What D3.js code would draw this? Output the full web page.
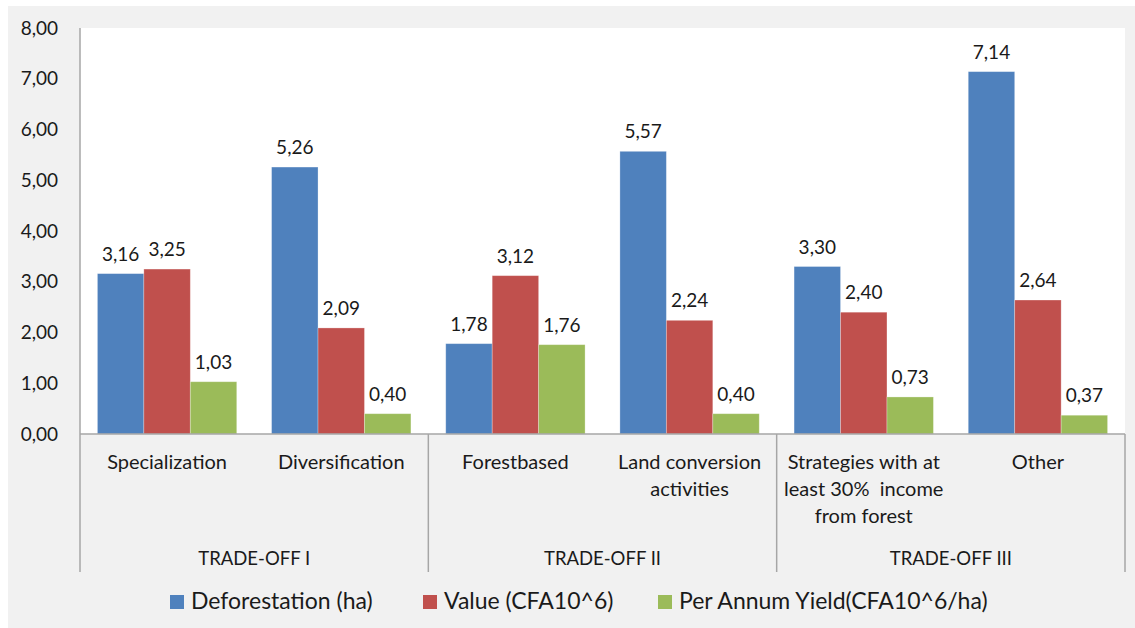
<!DOCTYPE html>
<html>
<head>
<meta charset="utf-8">
<script src="https://cdn.jsdelivr.net/npm/d3@7/dist/d3.min.js"></script>
<style>
  body { margin: 0; background: #ffffff; }
  svg text { font-family: Lato, "Open Sans", sans-serif; fill: #1a1a1a; }
</style>
</head>
<body>
<div id="chart"></div>
<script>
// chart data
var categories = [
  ["Specialization"],
  ["Diversification"],
  ["Forestbased"],
  ["Land conversion", "activities"],
  ["Strategies with at", "least 30%  income", "from forest"],
  ["Other"]
];
var groups = ["TRADE-OFF I", "TRADE-OFF II", "TRADE-OFF III"];
var seriesNames = ["Deforestation (ha)", "Value (CFA10^6)", "Per Annum Yield(CFA10^6/ha)"];
var deforestation = [3.16, 5.26, 1.78, 5.57, 3.30, 7.14];
var value = [3.25, 2.09, 3.12, 2.24, 2.40, 2.64];
var yieldPerAnnum = [1.03, 0.40, 1.76, 0.40, 0.73, 0.37];
var yTicks = [0, 1, 2, 3, 4, 5, 6, 7, 8];

var colors = ["#4f81bd", "#c0504d", "#9bbb59"];
var series = [deforestation, value, yieldPerAnnum];

var width = 1135, height = 628;
var margin = {left: 80, right: 10, top: 28, bottom: 194};
var plotW = width - margin.left - margin.right;
var plotH = height - margin.top - margin.bottom;

var locale = d3.formatLocale({decimal: ",", thousands: ".", grouping: [3], currency: ["", ""]});
var fmt = locale.format(".2f");

var svg = d3.select('#chart').append('svg')
  .attr('width', width)
  .attr('height', height);

// grey panel and white plot area
svg.append('rect')
  .attr('x', 8).attr('y', 6)
  .attr('width', width - 8).attr('height', height - 6)
  .attr('fill', '#f1f1f1');

var g = svg.append('g')
  .attr('transform', 'translate(' + margin.left + ',' + margin.top + ')');

g.append('rect')
  .attr('width', plotW).attr('height', plotH)
  .attr('fill', '#ffffff');

var x = d3.scaleBand()
  .domain(d3.range(categories.length))
  .range([0, plotW])
  .paddingInner(0.2)
  .paddingOuter(0.1);

var xs = d3.scaleBand()
  .domain(d3.range(series.length))
  .range([0, x.bandwidth()]);

var y = d3.scaleLinear().domain([0, 8]).range([plotH, 0]);

// y axis
var yAxis = g.append('g')
  .call(d3.axisLeft(y).tickValues(yTicks).tickFormat(fmt).tickSize(0).tickPadding(22));
yAxis.select('.domain').remove();
yAxis.selectAll('text')
  .style('font-family', 'Lato, sans-serif')
  .style('font-size', '19px')
  .attr('fill', '#1a1a1a');

g.append('line')
  .attr('x1', 0).attr('x2', 0)
  .attr('y1', 0).attr('y2', plotH)
  .attr('stroke', '#a6a6a6').attr('stroke-width', 1.5);

// bars
series.forEach(function(vals, si) {
  var sg = g.append('g');
  sg.selectAll('rect')
    .data(vals)
    .enter().append('rect')
    .attr('x', function(d, i) { return x(i) + xs(si); })
    .attr('y', function(d) { return y(d); })
    .attr('width', xs.bandwidth())
    .attr('height', function(d) { return plotH - y(d); })
    .attr('fill', colors[si])
    .attr('stroke', '#ffffff')
    .attr('stroke-opacity', 0.35)
    .attr('stroke-width', 0.8);

  sg.selectAll('text')
    .data(vals)
    .enter().append('text')
    .attr('x', function(d, i) { return x(i) + xs(si) + xs.bandwidth() / 2; })
    .attr('y', function(d) { return y(d) - 13; })
    .attr('text-anchor', 'middle')
    .style('font-size', '19px')
    .text(function(d) { return fmt(d); });
});

// bottom axis line
g.append('line')
  .attr('x1', 0).attr('x2', plotW)
  .attr('y1', plotH).attr('y2', plotH)
  .attr('stroke', '#a6a6a6').attr('stroke-width', 1.5);

// group separators
var groupW = plotW / groups.length;
d3.range(groups.length + 1).forEach(function(k) {
  g.append('line')
    .attr('x1', k * groupW).attr('x2', k * groupW)
    .attr('y1', plotH).attr('y2', plotH + 138)
    .attr('stroke', '#a6a6a6').attr('stroke-width', 1.5);
});

// category labels
var step = x.step();
categories.forEach(function(lines, i) {
  var cx = i * step + step / 2;
  var t = g.append('text')
    .attr('text-anchor', 'middle')
    .style('font-size', '20px');
  lines.forEach(function(line, li) {
    t.append('tspan')
      .attr('x', cx)
      .attr('y', plotH + 35 + li * 27)
      .attr('xml:space', 'preserve')
      .style('white-space', 'pre')
      .text(line);
  });
});

// group labels
groups.forEach(function(name, k) {
  g.append('text')
    .attr('x', k * groupW + groupW / 2)
    .attr('y', plotH + 131)
    .attr('text-anchor', 'middle')
    .style('font-size', '18.5px')
    .text(name);
});

// legend
var legendX = [170, 423, 658];
var legend = svg.append('g').attr('transform', 'translate(0,595)');
seriesNames.forEach(function(name, si) {
  legend.append('rect')
    .attr('x', legendX[si]).attr('y', 0)
    .attr('width', 14).attr('height', 14)
    .attr('fill', colors[si]);
  legend.append('text')
    .attr('x', legendX[si] + 21)
    .attr('y', 14)
    .style('font-size', '23px')
    .text(name);
});
</script>
</body>
</html>
